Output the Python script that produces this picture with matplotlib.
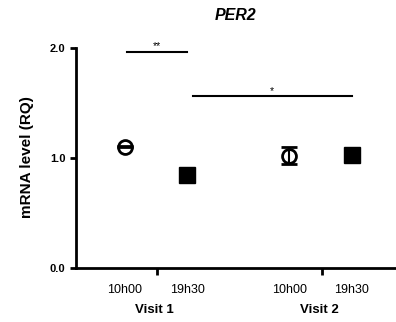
import matplotlib.pyplot as plt
from matplotlib.transforms import blended_transform_factory

# dados
visitas = ['Visit 1', 'Visit 2']
horarios = ['10h00', '19h30']
pos_visita = [1.0, 2.37]
desloc = [-0.27, 0.25]
media_10h = [1.10, 1.02]
erro_10h = [0.005, 0.075]
media_19h = [0.845, 1.03]
erro_19h = [0.02, 0.02]
sig_x = [(0.75, 1.25), (1.30, 2.62)]
sig_y = [1.965, 1.56]
sig_txt = ['**', '*']

plt.rcParams['font.family'] = ['Liberation Sans', 'DejaVu Sans']

fig = plt.figure(figsize=(3.96, 3.22), dpi=100)
ax = fig.add_axes([0.192, 0.168, 0.808, 0.683])

x10 = [p + desloc[0] for p in pos_visita]
x19 = [p + desloc[1] for p in pos_visita]

# marcadores primeiro, barras de erro por cima
ax.plot(x10, media_10h, 'o', mfc='white', mec='black', mew=2, ms=10, zorder=3)
ax.plot(x19, media_19h, 's', color='black', ms=11, zorder=3)
ax.errorbar(x10, media_10h, yerr=erro_10h, fmt='none', ecolor='black',
            elinewidth=1.5, capsize=6, capthick=2, zorder=4)
ax.errorbar(x19, media_19h, yerr=erro_19h, fmt='none', ecolor='black',
            elinewidth=1.5, capsize=5, zorder=4)

for (xa, xb), y, t in zip(sig_x, sig_y, sig_txt):
    ax.plot([xa, xb], [y, y], color='black', lw=1.5)
    ax.text((xa + xb) / 2, y + 0.005, t, ha='center', va='bottom', fontsize=7.5)

ax.set_xlim(0.325, 2.99)
ax.set_ylim(0, 2.0)
ax.set_yticks([0, 1, 2])
ax.set_yticklabels(['0.0', '1.0', '2.0'], fontsize=8, fontweight='bold')
ax.set_xticks(pos_visita)
ax.set_xticklabels([])
ax.tick_params(axis='both', width=2, length=4, direction='out')
ax.tick_params(axis='x', length=5)

for s in ['top', 'right']:
    ax.spines[s].set_visible(False)
for s in ['left', 'bottom']:
    ax.spines[s].set_linewidth(2)

trans = blended_transform_factory(ax.transData, fig.transFigure)
for p, v in zip(pos_visita, visitas):
    for d, h in zip(desloc, horarios):
        ax.text(p + d, 1 - 290 / 322, h, transform=trans, ha='center', va='center', fontsize=9)
    ax.text(p - 0.02, 1 - 310 / 322, v, transform=trans, ha='center', va='center',
            fontsize=9.5, fontweight='bold')

fig.text(27 / 396, 1 - 157 / 322, 'mRNA level (RQ)', rotation=90, ha='center', va='center',
         fontsize=11, fontweight='bold')
fig.text(236 / 396, 1 - 15 / 322, 'PER2', ha='center', va='center',
         fontsize=11.5, fontweight='bold', fontstyle='italic')

fig.savefig('out.png', dpi=100)
